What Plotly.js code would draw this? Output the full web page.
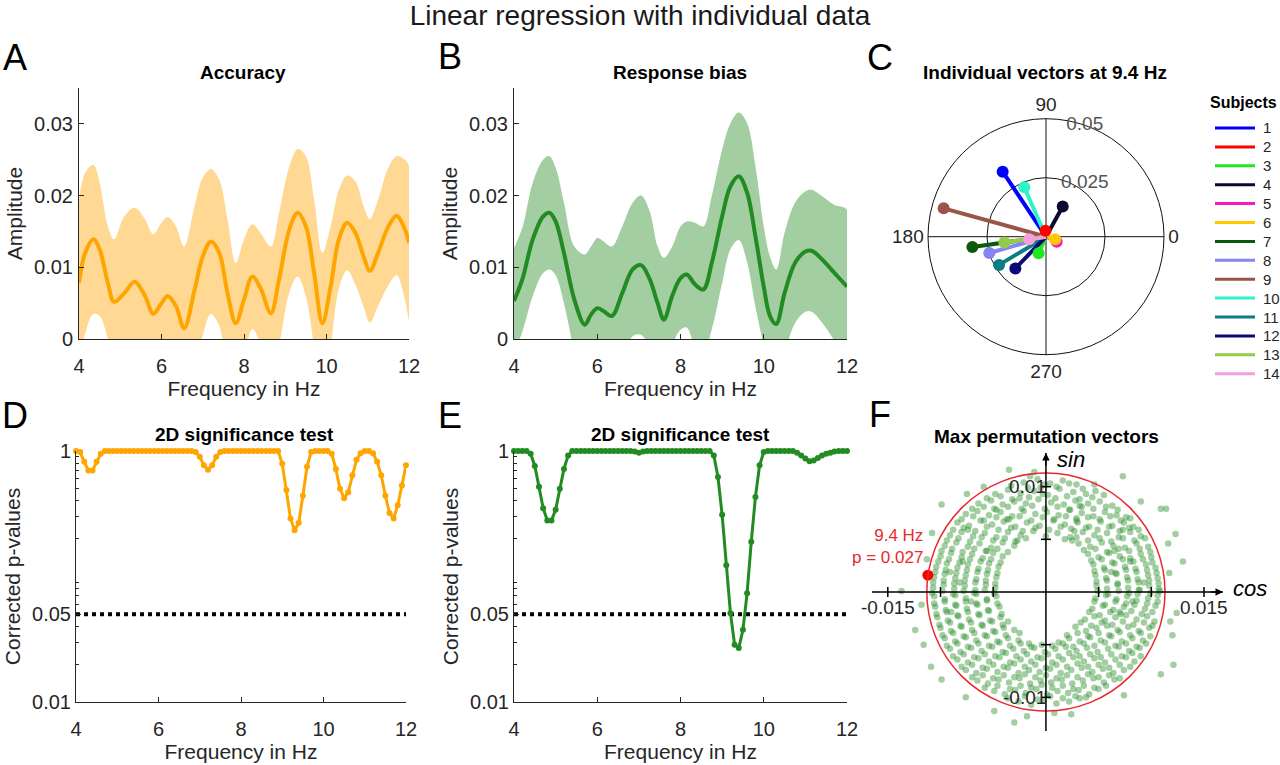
<!DOCTYPE html>
<html>
<head>
<meta charset="utf-8">
<script src="https://cdn.plot.ly/plotly-3.0.1.min.js"></script>
<style>
  html, body { margin: 0; padding: 0; background: #fff; }
  #fig { width: 1280px; height: 765px; }
</style>
</head>
<body>
<div id="fig"></div>
<script>
// Panel A: accuracy amplitude spectrum (mean and CI band)
var FREQ_A = [4.0,4.15,4.35,4.5,4.7,4.85,5.1,5.35,5.6,5.8,6.0,6.15,6.35,6.55,6.8,7.0,7.2,7.4,7.6,7.8,8.0,8.2,8.4,8.65,8.85,9.1,9.3,9.5,9.7,9.9,10.1,10.3,10.5,10.7,10.9,11.05,11.25,11.5,11.7,11.9,12.0];
var ACC_MEAN = [0.0078,0.012,0.0139,0.0125,0.0078,0.0052,0.0064,0.008,0.006,0.0035,0.005,0.006,0.0046,0.0015,0.0068,0.0115,0.0136,0.012,0.0064,0.0022,0.0055,0.0087,0.0071,0.0036,0.0083,0.0153,0.0176,0.0157,0.0092,0.0022,0.0073,0.0139,0.0162,0.0148,0.0115,0.0095,0.012,0.0157,0.0172,0.0153,0.0134];
var ACC_HI = [0.0194,0.0232,0.0243,0.0218,0.0157,0.0139,0.0171,0.0183,0.0167,0.0146,0.0162,0.017,0.0157,0.0129,0.0185,0.0225,0.0237,0.0222,0.0167,0.0106,0.0139,0.016,0.0148,0.0129,0.0176,0.0241,0.0265,0.0255,0.0194,0.012,0.0157,0.0208,0.0228,0.022,0.0185,0.0167,0.0194,0.0239,0.0255,0.025,0.0241];
var ACC_LO = [-0.0038,0.0008,0.0035,0.0032,0.0,-0.0035,-0.0043,-0.0023,-0.0047,-0.0076,-0.0062,-0.005,-0.0065,-0.0099,-0.0049,0.0005,0.0035,0.0018,-0.0039,-0.0062,-0.0029,0.0014,-0.0006,-0.0057,-0.001,0.0065,0.0087,0.0059,-0.001,-0.0076,-0.0011,0.007,0.0096,0.0076,0.0045,0.0023,0.0046,0.0075,0.0089,0.0056,0.0027];

// Panel B: response bias amplitude spectrum
var FREQ_B = [4.0,4.2,4.45,4.7,4.85,5.0,5.2,5.45,5.7,5.85,6.0,6.15,6.35,6.6,6.85,7.05,7.25,7.45,7.6,7.8,8.0,8.15,8.35,8.55,8.75,9.0,9.2,9.4,9.6,9.8,10.0,10.15,10.3,10.5,10.75,11.0,11.15,11.4,11.7,12.0];
var RB_MEAN = [0.0053,0.0083,0.0139,0.0171,0.0176,0.0164,0.012,0.0055,0.002,0.0034,0.0043,0.0039,0.0032,0.0064,0.0097,0.0103,0.0085,0.005,0.0027,0.006,0.0085,0.009,0.0076,0.0069,0.0106,0.0171,0.0213,0.0227,0.0204,0.0143,0.0073,0.0032,0.0021,0.0064,0.0106,0.0122,0.0123,0.0111,0.0092,0.0073];
var RB_HI = [0.0127,0.0155,0.0218,0.025,0.0255,0.0239,0.019,0.0129,0.0118,0.0129,0.0141,0.0136,0.0129,0.0157,0.019,0.02,0.018,0.0129,0.0113,0.0129,0.0157,0.0164,0.0162,0.0157,0.0199,0.0264,0.0301,0.0316,0.0301,0.0241,0.0157,0.0115,0.0097,0.0148,0.019,0.0206,0.0208,0.0199,0.0187,0.018];
var RB_LO = [-0.002,0.001,0.006,0.0092,0.0097,0.0089,0.005,-0.0019,-0.0078,-0.0061,-0.0055,-0.0058,-0.0065,-0.003,0.0004,0.0006,-0.001,-0.0029,-0.0059,-0.0009,0.0013,0.0016,-0.001,-0.0019,0.0013,0.0078,0.0125,0.0138,0.0107,0.0045,-0.001,-0.0051,-0.0055,-0.002,0.0022,0.0038,0.0038,0.0023,-0.0003,-0.0034];

// Panels D/E: corrected p-values of the 2D test
var FREQ_P = [4.0,4.1,4.2,4.3,4.4,4.5,4.6,4.7,4.8,4.9,
  5.0,5.1,5.2,5.3,5.4,5.5,5.6,5.7,5.8,5.9,
  6.0,6.1,6.2,6.3,6.4,6.5,6.6,6.7,6.8,6.9,
  7.0,7.1,7.2,7.3,7.4,7.5,7.6,7.7,7.8,7.9,
  8.0,8.1,8.2,8.3,8.4,8.5,8.6,8.7,8.8,8.9,
  9.0,9.1,9.2,9.3,9.4,9.5,9.6,9.7,9.8,9.9,
  10.0,10.1,10.2,10.3,10.4,10.5,10.6,10.7,10.8,10.9,
  11.0,11.1,11.2,11.3,11.4,11.5,11.6,11.7,11.8,11.9,
  12.0];
var P_ACC = [1,0.98,0.82,0.70,0.70,0.82,0.95,1,1,1,
  1,1,1,1,1,1,1,1,1,1,
  1,1,1,1,1,1,1,1,1,0.98,
  0.9,0.77,0.71,0.77,0.9,0.98,1,1,1,1,
  1,1,1,1,1,1,1,1,1,1,
  0.79,0.49,0.29,0.234,0.268,0.44,0.75,0.98,1,1,
  1,1,0.95,0.72,0.5,0.42,0.47,0.64,0.85,0.96,
  1,1,0.96,0.82,0.64,0.44,0.32,0.29,0.37,0.53,
  0.77];
var P_RB = [1,1,1,1,0.95,0.76,0.52,0.35,0.28,0.28,
  0.34,0.5,0.72,0.92,1,1,1,1,1,1,
  1,1,1,1,1,1,1,1,1,0.99,
  0.97,0.99,1,1,1,1,1,1,1,1,
  1,1,1,1,1,1,1,1,0.92,0.62,
  0.31,0.123,0.051,0.0286,0.0269,0.0376,0.0735,0.189,0.43,0.77,
  0.98,1,1,1,1,1,1,1,0.97,0.92,
  0.87,0.83,0.84,0.88,0.92,0.95,0.97,0.99,1,1,
  1];
var ALPHA = 0.05;

// Panel C: individual vectors at 9.4 Hz (amplitude, phase in degrees)
var SUBJECTS = ["1","2","3","4","5","6","7","8","9","10","11","12","13","14"];
var SUBJ_R = [0.0331,0.0025,0.0077,0.0146,0.005,0.0041,0.0315,0.025,0.045,0.0229,0.0232,0.0187,0.0178,0.0072];
var SUBJ_TH = [123.7,95,246,61,335,344,188,196,164.5,113.7,211,226,188,189];
var SUBJ_COLORS = ["#0000ff","#ff0000","#1ee81e","#0a0a2e","#f21dbc","#ffc800","#0b5a0b","#8585f5","#9b5548","#2ef2c8","#0b7d86","#0a0a78","#92cc48","#f2a0d8"];

// Panel F: max permutation vectors (cos, sin) in units of 1e-3
var PERM_MILLI = [
  [-2.1,10.4],[-0.8,10.7],[0.4,10.3],[1.6,10.6],[2.9,10.2],[-1.5,11.0],
  [-4.8,9.3],[-3.6,9.7],[-2.4,9.4],[-1.1,9.6],[0.2,9.2],[1.3,9.8],[2.6,9.5],[3.8,9.3],[4.7,9.6],[-0.5,9.9],
  [-6.4,8.4],[-5.2,8.7],[-4.1,8.3],[-3.0,8.6],[-1.9,8.4],[-0.7,8.8],[0.5,8.5],[1.7,8.3],[2.8,8.7],[4.0,8.4],[5.1,8.6],[6.3,8.2],[-2.5,8.9],[3.4,8.1],
  [-7.6,7.4],[-6.5,7.7],[-5.4,7.3],[-4.3,7.6],[-3.2,7.2],[-2.1,7.7],[-1.0,7.4],[0.1,7.6],[1.2,7.3],[2.3,7.8],[3.4,7.5],[4.5,7.2],[5.6,7.6],[6.7,7.3],[7.6,7.1],[-4.9,7.9],[2.9,7.0],
  [-8.4,6.6],[-7.3,6.3],[-6.2,6.8],[-5.1,6.4],[-4.0,6.7],[-2.9,6.2],[-1.8,6.6],[-0.6,6.3],[0.7,6.8],[1.8,6.4],[3.0,6.6],[4.1,6.2],[5.2,6.7],[6.3,6.3],[7.4,6.6],[8.3,6.2],[-3.5,6.9],[2.4,6.0],
  [-9.1,5.4],[-8.0,5.7],[-6.9,5.3],[-5.8,5.6],[-4.7,5.2],[-3.6,5.7],[-2.4,5.4],[-1.2,5.8],[0.0,5.3],[1.1,5.6],[2.3,5.2],[3.5,5.7],[4.6,5.4],[5.8,5.6],[6.9,5.2],[8.0,5.7],[9.0,5.3],[-7.4,5.9],[7.3,5.9],
  [-9.6,4.4],[-8.5,4.7],[-7.4,4.3],[-6.3,4.6],[-5.2,4.2],[-4.1,4.7],[-3.0,4.4],[3.1,4.6],[4.2,4.3],[5.3,4.7],[6.4,4.4],[7.5,4.2],[8.6,4.6],[9.7,4.3],[-2.7,4.9],[2.5,4.9],
  [-10.0,3.4],[-9.0,3.7],[-8.0,3.3],[-7.0,3.6],[-6.0,3.2],[-5.0,3.7],[-4.1,3.4],[4.0,3.6],[5.0,3.3],[6.0,3.7],[7.0,3.4],[8.0,3.2],[9.0,3.6],[10.0,3.3],[-5.6,3.9],[6.5,3.9],
  [-10.4,2.4],[-9.4,2.7],[-8.4,2.3],[-7.4,2.6],[-6.4,2.2],[-5.4,2.7],[-4.5,2.4],[4.5,2.6],[5.5,2.3],[6.5,2.7],[7.5,2.4],[8.5,2.2],[9.5,2.6],[10.4,2.3],[-7.9,2.9],[8.0,2.9],
  [-10.6,1.4],[-9.6,1.7],[-8.6,1.3],[-7.6,1.6],[-6.6,1.2],[-5.6,1.7],[-4.7,1.4],[4.7,1.6],[5.7,1.3],[6.7,1.7],[7.7,1.4],[8.7,1.2],[9.7,1.6],[10.6,1.3],[-9.1,1.9],[6.2,1.9],
  [-10.7,0.4],[-9.7,0.7],[-8.7,0.3],[-7.7,0.6],[-6.7,0.2],[-5.7,0.7],[-4.8,0.4],[4.8,0.6],[5.8,0.3],[6.8,0.7],[7.8,0.4],[8.8,0.2],[9.8,0.6],[10.7,0.3],[-8.2,0.9],[9.3,0.9],
  [-10.6,-0.4],[-9.6,-0.7],[-8.6,-0.3],[-7.6,-0.6],[-6.6,-0.2],[-5.6,-0.7],[-4.7,-0.4],[4.7,-0.6],[5.7,-0.3],[6.7,-0.7],[7.7,-0.4],[8.7,-0.2],[9.7,-0.6],[10.6,-0.3],[-7.1,-0.9],[8.2,-0.9],
  [-10.5,-1.4],[-9.5,-1.7],[-8.5,-1.3],[-7.5,-1.6],[-6.5,-1.2],[-5.5,-1.7],[-4.4,-1.4],[4.4,-1.6],[5.4,-1.3],[6.4,-1.7],[7.4,-1.4],[8.4,-1.2],[9.4,-1.6],[10.4,-1.3],[-9.0,-1.9],[7.0,-1.9],
  [-10.3,-2.4],[-9.3,-2.7],[-8.3,-2.3],[-7.3,-2.6],[-6.3,-2.2],[-5.3,-2.7],[-4.3,-2.4],[-3.6,-2.8],[3.7,-2.6],[4.6,-2.3],[5.6,-2.7],[6.6,-2.4],[7.6,-2.2],[8.6,-2.6],[9.6,-2.3],[10.3,-2.8],
  [-10.0,-3.4],[-9.0,-3.7],[-8.0,-3.3],[-7.0,-3.6],[-6.0,-3.2],[-5.0,-3.7],[-4.0,-3.4],[-3.0,-3.6],[2.8,-3.3],[3.8,-3.7],[4.8,-3.4],[5.8,-3.2],[6.8,-3.6],[7.8,-3.3],[8.8,-3.7],[9.8,-3.4],
  [-9.6,-4.4],[-8.6,-4.7],[-7.6,-4.3],[-6.6,-4.6],[-5.6,-4.2],[-4.6,-4.7],[-3.6,-4.4],[-2.6,-4.6],[-1.6,-4.9],[1.2,-4.8],[2.2,-4.4],[3.2,-4.7],[4.2,-4.3],[5.2,-4.6],[6.2,-4.2],[7.2,-4.7],[8.2,-4.4],[9.2,-4.6],[12.0,-4.1],
  [-9.1,-5.4],[-8.1,-5.7],[-7.1,-5.3],[-6.1,-5.6],[-5.1,-5.2],[-4.1,-5.7],[-3.1,-5.4],[-2.1,-5.6],[-1.1,-5.3],[-0.1,-5.7],[0.9,-5.4],[1.9,-5.2],[2.9,-5.6],[3.9,-5.3],[4.9,-5.7],[5.9,-5.4],[6.9,-5.2],[7.9,-5.6],[8.9,-5.3],
  [-8.4,-6.4],[-7.4,-6.7],[-6.4,-6.3],[-5.4,-6.6],[-4.4,-6.2],[-3.4,-6.7],[-2.4,-6.4],[-1.4,-6.6],[-0.4,-6.3],[0.6,-6.7],[1.6,-6.4],[2.6,-6.2],[3.6,-6.6],[4.6,-6.3],[5.6,-6.7],[6.6,-6.4],[7.6,-6.2],[8.4,-6.6],
  [-7.6,-7.4],[-6.6,-7.7],[-5.6,-7.3],[-4.6,-7.6],[-3.6,-7.2],[-2.6,-7.7],[-1.6,-7.4],[-0.6,-7.6],[0.4,-7.3],[1.4,-7.7],[2.4,-7.4],[3.4,-7.2],[4.4,-7.6],[5.4,-7.3],[6.4,-7.7],[7.4,-7.4],[-10.9,-7.1],[12.1,-6.9],
  [-6.5,-8.4],[-5.5,-8.7],[-4.5,-8.3],[-3.5,-8.6],[-2.5,-8.2],[-1.5,-8.7],[-0.5,-8.4],[0.5,-8.6],[1.5,-8.3],[2.5,-8.7],[3.5,-8.4],[4.5,-8.2],[5.5,-8.6],[6.5,-8.3],[-9.9,-8.3],
  [-4.9,-9.4],[-3.9,-9.7],[-2.9,-9.3],[-1.9,-9.6],[-0.9,-9.2],[0.1,-9.7],[1.1,-9.4],[2.1,-9.6],[3.1,-9.3],[4.1,-9.7],[5.0,-9.2],
  [-2.6,-10.4],[-1.4,-10.7],[-0.2,-10.3],[1.0,-10.6],[2.2,-10.4],[3.2,-10.1],[-4.9,-11.3],[-3.0,-12.4],[0.8,-11.5],
  [-3.5,11.6],[7.3,11.0],[-7.5,9.3],[10.9,7.9],[11.4,7.9],[-9.9,8.3],[13.0,2.9],[12.4,-2.0],[-13.7,0.1],[-11.8,-1.2],[-11.3,3.1],[11.6,4.6],
  [-3.3,10.1],[-1.7,9.9],[-0.1,10.2],[1.0,10.0],[2.2,10.3],[3.5,9.8],
  [-5.6,8.9],[-4.3,9.1],[-3.2,8.8],[-1.6,9.0],[-0.3,9.3],[0.9,8.9],[2.0,9.1],[3.2,8.8],[4.4,9.0],[5.5,9.2],
  [-7.0,7.9],[-5.9,8.1],[-4.7,7.8],[-3.6,8.1],[-2.3,7.9],[-1.3,8.2],[-0.1,7.9],[1.1,8.1],[2.2,7.8],[3.2,8.2],[4.5,7.9],[5.7,8.1],[6.8,7.8],
  [-8.0,6.9],[-6.9,7.2],[-5.9,6.8],[-4.7,7.1],[-3.7,6.9],[-2.5,7.2],[-1.4,6.8],[-0.3,7.1],[0.8,6.9],[1.9,7.2],[2.9,6.8],[4.0,7.1],[5.1,6.9],[6.1,7.2],[7.1,6.8],[8.0,7.0],
  [-8.8,5.9],[-7.8,6.1],[-6.7,5.8],[-5.6,6.2],[-4.5,5.9],[-3.3,6.1],[-2.2,5.8],[-1.0,6.1],[0.3,5.9],[1.4,6.2],[2.7,5.8],[3.8,6.1],[4.9,5.9],[6.0,6.2],[7.0,5.8],[7.9,6.1],[8.8,5.9],
  [-9.4,4.9],[-8.3,5.1],[-7.2,4.8],[-6.1,5.2],[-5.0,4.9],[-3.9,5.1],[-2.9,4.8],[-1.9,5.1],[1.8,5.0],[2.9,5.2],[4.0,4.9],[5.1,5.1],[6.2,4.8],[7.3,5.1],[8.4,4.9],[9.4,5.1],
  [-9.9,3.9],[-8.9,4.1],[-7.9,3.8],[-6.8,4.1],[-5.7,3.9],[-4.6,4.1],[-3.6,3.8],[3.6,4.0],[4.7,4.1],[5.8,3.8],[6.9,4.1],[7.9,3.9],[8.9,4.1],[9.9,3.8],
  [-10.2,2.9],[-9.2,3.1],[-8.2,2.8],[-7.2,3.1],[-6.2,2.9],[-5.2,3.1],[-4.3,2.8],[4.3,3.0],[5.3,3.1],[6.3,2.8],[7.3,3.1],[8.3,2.9],[9.2,3.1],[10.1,2.8],
  [-10.5,1.9],[-9.5,2.1],[-8.5,1.8],[-7.5,2.1],[-6.5,1.9],[-5.5,2.1],[-4.6,1.8],[4.6,2.0],[5.6,2.1],[6.6,1.8],[7.6,2.1],[8.6,1.9],[9.6,2.1],[10.5,1.8],
  [-10.7,0.9],[-9.7,1.1],[-8.7,0.8],[-7.7,1.1],[-6.7,0.9],[-5.7,1.1],[-4.8,0.8],[4.8,1.0],[5.8,1.1],[6.8,0.8],[7.8,1.1],[8.8,0.9],[9.8,1.1],[10.7,0.8],
  [-10.8,-0.1],[-9.8,0.1],[-8.8,-0.2],[-7.8,0.1],[-6.8,-0.1],[-5.8,0.2],[-4.9,-0.1],[4.9,0.1],[5.9,-0.2],[6.9,0.1],[7.9,-0.1],[8.9,0.2],[9.9,-0.1],[10.8,0.1],
  [-10.6,-1.1],[-9.6,-0.9],[-8.6,-1.2],[-7.6,-0.9],[-6.6,-1.1],[-5.6,-0.8],[-4.6,-1.1],[4.6,-0.9],[5.6,-1.2],[6.6,-0.9],[7.6,-1.1],[8.6,-0.8],[9.6,-1.1],[10.6,-0.9],
  [-10.4,-2.1],[-9.4,-1.9],[-8.4,-2.2],[-7.4,-1.9],[-6.4,-2.1],[-5.4,-1.8],[-4.2,-2.1],[4.1,-1.9],[5.1,-2.2],[6.1,-1.9],[7.1,-2.1],[8.1,-1.8],[9.1,-2.1],[10.1,-1.9],
  [-10.1,-3.1],[-9.1,-2.9],[-8.1,-3.2],[-7.1,-2.9],[-6.1,-3.1],[-5.1,-2.8],[-4.1,-3.1],[3.3,-2.9],[4.3,-3.2],[5.3,-2.9],[6.3,-3.1],[7.3,-2.8],[8.3,-3.1],[9.3,-2.9],[10.1,-3.2],
  [-9.8,-4.1],[-8.8,-3.9],[-7.8,-4.2],[-6.8,-3.9],[-5.8,-4.1],[-4.8,-3.8],[-3.8,-4.1],[-2.5,-3.9],[2.0,-4.1],[3.0,-3.9],[4.0,-4.2],[5.0,-3.9],[6.0,-4.1],[7.0,-3.8],[8.0,-4.1],[9.0,-3.9],[9.9,-4.2],
  [-9.4,-5.1],[-8.4,-4.9],[-7.4,-5.2],[-6.4,-4.9],[-5.4,-5.1],[-4.4,-4.8],[-3.4,-5.1],[-2.4,-4.9],[-1.4,-5.2],[-0.4,-5.0],[0.6,-5.1],[1.6,-4.9],[2.6,-5.2],[3.6,-4.9],[4.6,-5.1],[5.6,-4.8],[6.6,-5.1],[7.6,-4.9],[8.6,-5.2],[9.5,-4.9],
  [-8.8,-6.1],[-7.8,-5.9],[-6.8,-6.2],[-5.8,-5.9],[-4.8,-6.1],[-3.8,-5.8],[-2.8,-6.1],[-1.8,-5.9],[-0.8,-6.2],[0.2,-5.9],[1.2,-6.1],[2.2,-5.8],[3.2,-6.1],[4.2,-5.9],[5.2,-6.2],[6.2,-5.9],[7.2,-6.1],[8.2,-5.8],[9.0,-6.1],
  [-8.0,-7.1],[-7.0,-6.9],[-6.0,-7.2],[-5.0,-6.9],[-4.0,-7.1],[-3.0,-6.8],[-2.0,-7.1],[-1.0,-6.9],[0.0,-7.2],[1.0,-6.9],[2.0,-7.1],[3.0,-6.8],[4.0,-7.1],[5.0,-6.9],[6.0,-7.2],[7.0,-6.9],[8.0,-7.1],
  [-7.0,-8.1],[-6.0,-7.9],[-5.0,-8.2],[-4.0,-7.9],[-3.0,-8.1],[-2.0,-7.8],[-1.0,-8.1],[0.0,-7.9],[1.0,-8.2],[2.0,-7.9],[3.0,-8.1],[4.0,-7.8],[5.0,-8.1],[6.0,-7.9],[7.0,-8.2],
  [-5.8,-9.1],[-4.6,-8.9],[-3.4,-9.2],[-2.4,-8.9],[-1.4,-9.1],[-0.4,-8.8],[0.6,-9.1],[1.6,-8.9],[2.6,-9.2],[3.6,-8.9],[4.6,-9.1],[5.7,-8.9],
  [-3.6,-10.1],[-2.0,-9.9],[-0.8,-10.2],[0.4,-9.9],[1.6,-10.1],[2.8,-9.9],[3.8,-10.0],
  [-1.1,11.4],[4.6,10.2],[-5.9,10.0],[9.0,8.6],[-10.8,5.6],[12.3,5.5],[11.7,1.8],[-12.4,-3.6],[-11.6,-5.0],[10.9,-7.8],[7.4,-9.8],[-7.6,-10.0],[-1.8,-11.8],[2.4,-11.6],[11.8,-2.8]
];
var OBS_VEC = [-0.0112, 0.0016];      // observed 9.4 Hz vector
var NULL_R = 0.0113;                  // 95th percentile radius of the null
var F_XTICKS = [-0.015,-0.01,-0.005,0.005,0.01,0.015];
var F_YTICKS = [-0.01,-0.005,0.005,0.01];

(function () {
  "use strict";

  var W = 1280, H = 765;
  var INK = "#262626";
  var FONT = "Liberation Sans, Arial, Helvetica, sans-serif";
  var ORANGE = "#ffa500", GREEN = "#228b22";
  var TICK = 20, LAB = 21, HEAD = 19;

  function px(x0, x1) { return [x0 / W, x1 / W]; }
  function py(top, bottom) { return [1 - bottom / H, 1 - top / H]; }

  function xAx(dom, anchor, title) {
    return {
      domain: dom, anchor: anchor, range: [4, 12], tickvals: [4, 6, 8, 10, 12],
      showline: true, linecolor: INK, linewidth: 1, mirror: false,
      ticks: "inside", ticklen: 5, tickcolor: INK, showgrid: false, zeroline: false,
      tickfont: { size: TICK, color: INK }, ticklabelstandoff: 9,
      title: { text: title, font: { size: LAB, color: INK }, standoff: 2 }
    };
  }
  function yAmp(dom, anchor) {
    return {
      domain: dom, anchor: anchor, range: [0, 0.035],
      tickvals: [0, 0.01, 0.02, 0.03], ticktext: ["0", "0.01", "0.02", "0.03"],
      showline: true, linecolor: INK, linewidth: 1, ticks: "inside", ticklen: 5, tickcolor: INK,
      showgrid: false, zeroline: false, tickfont: { size: TICK, color: INK }, ticklabelstandoff: 1,
      title: { text: "Amplitude", font: { size: LAB, color: INK }, standoff: 5 }
    };
  }
  function yP(dom, anchor) {
    return {
      domain: dom, anchor: anchor, type: "log", range: [-2, 0],
      tickvals: [0.01, 0.05, 1], ticktext: ["0.01", "0.05", "1"],
      minor: { tickvals: [0.02,0.03,0.04,0.06,0.07,0.08,0.09,0.2,0.3,0.4,0.5,0.6,0.7,0.8,0.9], ticks: "inside", ticklen: 3, tickcolor: INK, showgrid: false },
      showline: true, linecolor: INK, linewidth: 1, ticks: "inside", ticklen: 5, tickcolor: INK,
      showgrid: false, zeroline: false, tickfont: { size: TICK, color: INK }, ticklabelstandoff: 0,
      title: { text: "Corrected p-values", font: { size: LAB, color: INK }, standoff: 5 }
    };
  }
  function hexA(hex, a) {
    var n = parseInt(hex.slice(1), 16);
    return "rgba(" + ((n >> 16) & 255) + "," + ((n >> 8) & 255) + "," + (n & 255) + "," + a + ")";
  }

  function bandTraces(xs, mean, hi, lo, color, xa, ya) {
    return [{
      x: xs.concat(xs.slice().reverse()), y: hi.concat(lo.slice().reverse()),
      type: "scatter", mode: "lines", fill: "toself", fillcolor: hexA(color, 0.42),
      line: { width: 0, shape: "spline", smoothing: 1 }, xaxis: xa, yaxis: ya,
      hoverinfo: "skip", showlegend: false
    }, {
      x: xs, y: mean, type: "scatter", mode: "lines",
      line: { color: color, width: 4, shape: "spline", smoothing: 1 },
      xaxis: xa, yaxis: ya, showlegend: false
    }];
  }
  function pTraces(ps, color, xa, ya) {
    return [{
      x: [FREQ_P[0], FREQ_P[FREQ_P.length - 1]], y: [ALPHA, ALPHA], type: "scatter", mode: "lines",
      line: { color: "#000", width: 4, dash: "dot" }, xaxis: xa, yaxis: ya, showlegend: false
    }, {
      x: FREQ_P, y: ps, type: "scatter", mode: "lines+markers", cliponaxis: false,
      line: { color: color, width: 3 }, marker: { color: color, size: 6 },
      xaxis: xa, yaxis: ya, showlegend: false
    }];
  }

  var traces = [];
  traces = traces.concat(bandTraces(FREQ_A, ACC_MEAN, ACC_HI, ACC_LO, ORANGE, "x", "y"));
  traces = traces.concat(bandTraces(FREQ_B, RB_MEAN, RB_HI, RB_LO, GREEN, "x2", "y2"));
  traces = traces.concat(pTraces(P_ACC, ORANGE, "x3", "y3"));
  traces = traces.concat(pTraces(P_RB, GREEN, "x4", "y4"));

  // subject vectors: line from origin, dot at the tip
  SUBJECTS.forEach(function (s, i) {
    traces.push({
      type: "scatterpolar", r: [0, SUBJ_R[i]], theta: [0, SUBJ_TH[i]], mode: "lines",
      line: { color: SUBJ_COLORS[i], width: 4 }, name: s, subplot: "polar", showlegend: false
    });
  });
  traces.push({
    type: "scatterpolar", r: SUBJ_R, theta: SUBJ_TH, mode: "markers",
    marker: { color: SUBJ_COLORS, size: 12 }, showlegend: false, subplot: "polar"
  });

  traces.push({
    x: PERM_MILLI.map(function (p) { return p[0] / 1000; }),
    y: PERM_MILLI.map(function (p) { return p[1] / 1000; }),
    type: "scatter", mode: "markers", xaxis: "x5", yaxis: "y5", showlegend: false,
    marker: { color: "rgba(34,139,34,0.42)", size: 6.5, line: { width: 0 } }
  });
  traces.push({
    x: [OBS_VEC[0]], y: [OBS_VEC[1]], type: "scatter", mode: "markers", xaxis: "x5", yaxis: "y5",
    showlegend: false, cliponaxis: false, marker: { color: "#ff0000", size: 11 }
  });

  // panel F axes (cross through origin)
  var FX = [-0.0165, 0.0168], FY = [-0.0132, 0.0132];
  var shapes = [
    { type: "circle", xref: "x5", yref: "y5", x0: -NULL_R, x1: NULL_R, y0: -NULL_R, y1: NULL_R, line: { color: "#e8292e", width: 1.5 }, layer: "above" },
    { type: "line", xref: "x5", yref: "y5", x0: FX[0], x1: FX[1], y0: 0, y1: 0, line: { color: "#000", width: 1.5 }, layer: "above" },
    { type: "line", xref: "x5", yref: "y5", x0: 0, x1: 0, y0: FY[0], y1: FY[1], line: { color: "#000", width: 1.5 }, layer: "above" }
  ];
  F_XTICKS.forEach(function (t) {
    shapes.push({ type: "line", xref: "x5", yref: "y5", x0: t, x1: t, ysizemode: "pixel", yanchor: 0, y0: -5, y1: 5, line: { color: "#000", width: 1.5 }, layer: "above" });
  });
  F_YTICKS.forEach(function (t) {
    shapes.push({ type: "line", xref: "x5", yref: "y5", y0: t, y1: t, xsizemode: "pixel", xanchor: 0, x0: -5, x1: 5, line: { color: "#000", width: 1.5 }, layer: "above" });
  });

  function letter(t, x, y) {
    return { text: t, xref: "paper", yref: "paper", x: x / W, y: 1 - y / H, showarrow: false,
      xanchor: "center", yanchor: "middle", font: { size: 36, color: "#000" } };
  }
  function heading(t, x, y) {
    return { text: "<b>" + t + "</b>", xref: "paper", yref: "paper", x: x / W, y: 1 - y / H, showarrow: false,
      xanchor: "center", yanchor: "middle", font: { size: HEAD, color: "#000" } };
  }
  function fLabel(t, x, y, opts) {
    var a = { text: t, xref: "x5", yref: "y5", x: x, y: y, showarrow: false, font: { size: 19, color: INK } };
    Object.keys(opts || {}).forEach(function (k) { a[k] = opts[k]; });
    return a;
  }

  var annotations = [
    letter("A", 15, 58), letter("B", 450, 57), letter("C", 880, 58),
    letter("D", 15, 416), letter("E", 450, 416), letter("F", 880, 415),
    heading("Accuracy", 243, 72), heading("Response bias", 680, 72),
    heading("Individual vectors at 9.4 Hz", 1045, 72),
    heading("2D significance test", 244, 434), heading("2D significance test", 680, 434),
    heading("Max permutation vectors", 1046, 436),
    { xref: "x5", yref: "y5", x: FX[1], y: 0, ax: -14, ay: 0, text: "", showarrow: true, arrowhead: 2, arrowsize: 1, arrowwidth: 1.5, arrowcolor: "#000" },
    { xref: "x5", yref: "y5", x: 0, y: FY[1], ax: 0, ay: 14, text: "", showarrow: true, arrowhead: 2, arrowsize: 1, arrowwidth: 1.5, arrowcolor: "#000" },
    fLabel("<i>cos</i>", FX[1], 0, { xanchor: "left", xshift: 8, yshift: 4, font: { size: 22, color: "#000" } }),
    fLabel("<i>sin</i>", 0, FY[1], { xanchor: "left", xshift: 9, yshift: -6, font: { size: 22, color: "#000" } }),
    fLabel("-0.015", -0.015, 0, { yanchor: "top", yshift: -3 }),
    fLabel("0.015", 0.015, 0, { yanchor: "top", yshift: -3 }),
    fLabel("0.01", 0, 0.01, { xanchor: "right", xshift: 2 }),
    fLabel("-0.01", 0, -0.01, { xanchor: "right", xshift: 2 }),
    fLabel("9.4 Hz<br>p = 0.027", OBS_VEC[0], OBS_VEC[1], { xanchor: "right", yanchor: "bottom", align: "right", xshift: -3, yshift: 6, font: { size: 17, color: "#e8292e" } }),
    { text: "<b>Subjects</b>", xref: "paper", yref: "paper", x: 1243 / W, y: 1 - 103 / H, showarrow: false,
      xanchor: "center", yanchor: "middle", font: { size: 16, color: "#000" } }
  ];

  // subject key, drawn beside the polar plot
  SUBJECTS.forEach(function (s, i) {
    var yy = 1 - (128 + i * 18.9) / H;
    shapes.push({ type: "line", xref: "paper", yref: "paper", x0: 1215 / W, x1: 1255 / W, y0: yy, y1: yy,
      line: { color: SUBJ_COLORS[i], width: 3 } });
    annotations.push({ text: s, xref: "paper", yref: "paper", x: 1261 / W, y: yy, showarrow: false,
      xanchor: "left", yanchor: "middle", font: { size: 15, color: INK } });
  });

  var layout = {
    width: W, height: H, margin: { l: 0, r: 0, t: 0, b: 0 },
    paper_bgcolor: "#fff", plot_bgcolor: "rgba(0,0,0,0)",
    font: { family: FONT, color: INK, size: 17 },
    showlegend: false,
    title: { text: "Linear regression with individual data", x: 0.5, xanchor: "center", y: 1 - 15 / H, yanchor: "middle", font: { size: 28, color: "#1a1a1a" } },
    xaxis: xAx(px(79, 409), "y", "Frequency in Hz"),
    yaxis: yAmp(py(88, 339), "x"),
    xaxis2: xAx(px(514, 847), "y2", "Frequency in Hz"),
    yaxis2: yAmp(py(88, 339), "x2"),
    xaxis3: xAx(px(76, 406), "y3", "Frequency in Hz"),
    yaxis3: yP(py(451, 702), "x3"),
    xaxis4: xAx(px(514, 847), "y4", "Frequency in Hz"),
    yaxis4: yP(py(451, 702), "x4"),
    xaxis5: { domain: px(872, 1223), anchor: "y5", range: FX, visible: false },
    yaxis5: { domain: py(453, 731), anchor: "x5", range: FY, visible: false },
    polar: {
      domain: { x: px(928, 1164), y: py(118.7, 354.7) }, bgcolor: "#fff",
      radialaxis: { range: [0, 0.05], tickvals: [0.025, 0.05], ticktext: ["0.025", "0.05"], angle: 85, tickangle: 85,
        showline: false, ticks: "", gridcolor: "#111", gridwidth: 1, tickfont: { size: 19, color: "#555" } },
      angularaxis: { tickvals: [0, 90, 180, 270], ticktext: ["0", "90", "180", "270"], direction: "counterclockwise", rotation: 0,
        showline: true, linecolor: "#111", linewidth: 1, gridcolor: "#111", ticks: "", tickfont: { size: 19, color: INK } }
    },
    shapes: shapes,
    annotations: annotations
  };

  Plotly.newPlot("fig", traces, layout, { displayModeBar: false, staticPlot: true });
})();
</script>
</body>
</html>
